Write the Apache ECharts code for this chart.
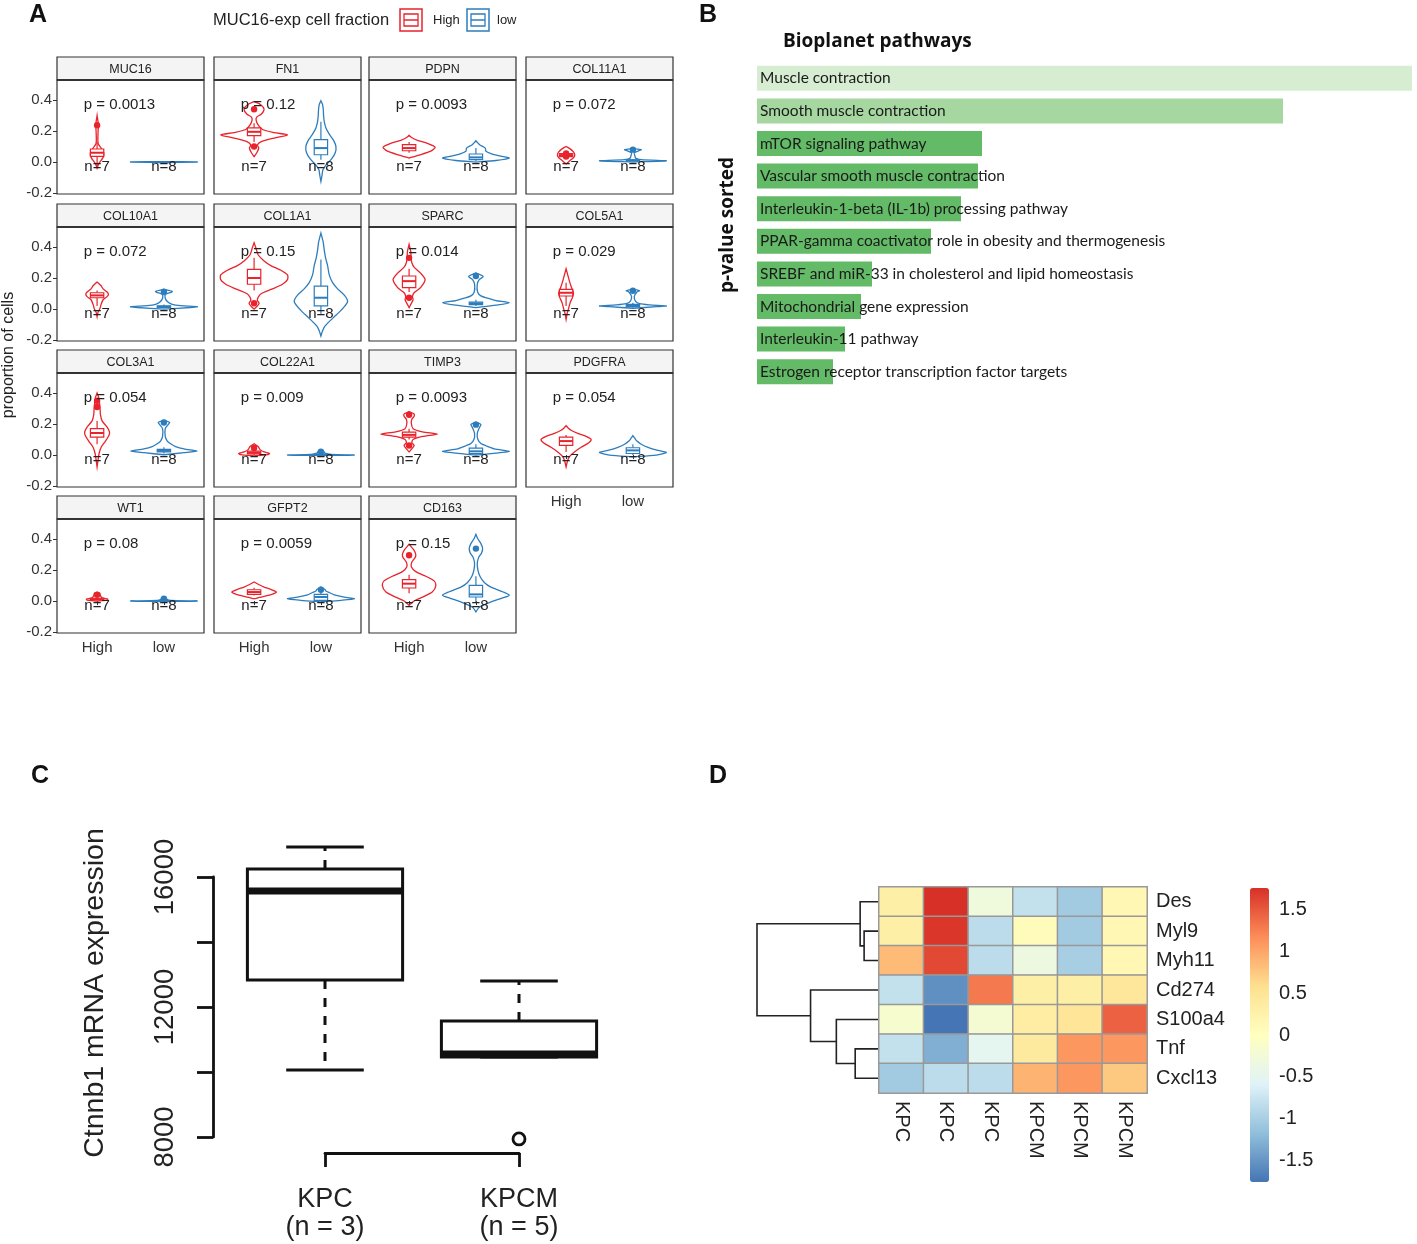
<!DOCTYPE html>
<html><head><meta charset="utf-8">
<script src="https://cdn.jsdelivr.net/npm/echarts@6/dist/echarts.min.js"></script>
<style>html,body{margin:0;padding:0;background:#fff}#c{width:1417px;height:1244px}</style>
</head><body><div id="c"></div>
<script>
// ================= Panel A data =================
const facetNames = ['MUC16','FN1','PDPN','COL11A1','COL10A1','COL1A1','SPARC','COL5A1','COL3A1','COL22A1','TIMP3','PDGFRA','WT1','GFPT2','CD163'];
const pValues = ['0.0013','0.12','0.0093','0.072','0.072','0.15','0.014','0.029','0.054','0.009','0.0093','0.054','0.08','0.0059','0.15'];
const groupNames = ['High','low'];
const groupN = [7, 8];
const yTicksA = [-0.2, 0, 0.2, 0.4];
// violin outlines: [value, relative half-width]
const violinHigh = [
 [[-0.04,0],[-0.01,0.05],[0.03,0.18],[0.06,0.2],[0.09,0.12],[0.12,0.03],[0.2,0.03],[0.24,0.04],[0.3,0]],
 [[0.035,0],[0.06,0.08],[0.09,0.14],[0.11,0.1],[0.13,0.2],[0.155,0.6],[0.175,1.0],[0.19,0.6],[0.21,0.25],[0.24,0.12],[0.27,0.06],[0.29,0.08],[0.31,0.22],[0.34,0.3],[0.37,0.2],[0.39,0]],
 [[0.026,0],[0.045,0.3],[0.07,0.65],[0.095,0.78],[0.12,0.55],[0.14,0.25],[0.155,0.1],[0.172,0]],
 [[-0.013,0],[0.01,0.12],[0.03,0.23],[0.047,0.26],[0.065,0.22],[0.085,0.12],[0.1,0]],
 [[-0.05,0],[-0.02,0.03],[0.0,0.08],[0.03,0.12],[0.06,0.18],[0.08,0.3],[0.095,0.34],[0.11,0.3],[0.13,0.18],[0.15,0.12],[0.174,0]],
 [[0.0,0],[0.02,0.1],[0.037,0.15],[0.055,0.1],[0.075,0.12],[0.1,0.22],[0.13,0.55],[0.16,0.85],[0.19,1.0],[0.22,1.0],[0.25,0.8],[0.28,0.5],[0.31,0.3],[0.35,0.12],[0.39,0.06],[0.428,0]],
 [[0.009,0],[0.03,0.05],[0.06,0.12],[0.08,0.1],[0.105,0.15],[0.14,0.35],[0.19,0.48],[0.23,0.35],[0.27,0.15],[0.3,0.08],[0.33,0.06],[0.37,0.05],[0.417,0]],
 [[-0.067,0],[-0.03,0.03],[0.0,0.07],[0.04,0.12],[0.08,0.2],[0.105,0.22],[0.14,0.16],[0.18,0.1],[0.22,0.05],[0.26,0]],
 [[-0.077,0],[-0.03,0.03],[0.01,0.06],[0.05,0.12],[0.09,0.25],[0.13,0.36],[0.15,0.37],[0.18,0.3],[0.22,0.15],[0.26,0.1],[0.3,0.09],[0.34,0.07],[0.37,0.05],[0.4,0]],
 [[-0.005,0],[0.003,0.4],[0.01,0.46],[0.02,0.3],[0.035,0.18],[0.055,0.12],[0.073,0]],
 [[0.02,0],[0.04,0.08],[0.062,0.15],[0.08,0.08],[0.1,0.12],[0.12,0.4],[0.135,0.85],[0.15,0.4],[0.17,0.12],[0.2,0.07],[0.23,0.08],[0.25,0.15],[0.265,0.15],[0.28,0]],
 [[-0.077,0],[-0.04,0.04],[-0.01,0.1],[0.02,0.25],[0.05,0.45],[0.08,0.68],[0.1,0.75],[0.12,0.6],[0.14,0.35],[0.16,0.15],[0.175,0.06],[0.19,0]],
 [[0.0,0],[0.006,0.3],[0.012,0.32],[0.02,0.15],[0.035,0.1],[0.05,0.08],[0.058,0]],
 [[0.015,0],[0.03,0.3],[0.045,0.55],[0.058,0.67],[0.075,0.5],[0.09,0.3],[0.105,0.15],[0.123,0]],
 [[-0.028,0],[0.0,0.15],[0.03,0.45],[0.06,0.7],[0.1,0.8],[0.13,0.75],[0.16,0.5],[0.19,0.2],[0.22,0.07],[0.25,0.08],[0.28,0.18],[0.3,0.2],[0.33,0.14],[0.366,0]]
];
const violinLow = [
 [[-0.003,0],[-0.001,1.0],[0.001,1.0],[0.003,0]],
 [[-0.125,0],[-0.09,0.03],[-0.05,0.06],[-0.02,0.15],[0.02,0.32],[0.06,0.43],[0.1,0.45],[0.14,0.38],[0.18,0.25],[0.22,0.15],[0.26,0.1],[0.3,0.08],[0.34,0.07],[0.37,0.05],[0.396,0]],
 [[0.0,0],[0.01,0.6],[0.025,1.0],[0.04,0.7],[0.055,0.45],[0.07,0.3],[0.09,0.28],[0.11,0.12],[0.125,0.05],[0.138,0]],
 [[0.0,0],[0.008,1.0],[0.015,0.25],[0.025,0.08],[0.04,0.06],[0.06,0.04],[0.075,0.2],[0.08,0.25],[0.086,0]],
 [[0.0,0],[0.01,0.8],[0.015,1.0],[0.022,0.5],[0.03,0.25],[0.045,0.12],[0.07,0.04],[0.095,0.05],[0.108,0.22],[0.114,0.25],[0.127,0]],
 [[-0.174,0],[-0.14,0.05],[-0.11,0.12],[-0.06,0.35],[-0.02,0.55],[0.02,0.72],[0.05,0.8],[0.09,0.7],[0.13,0.5],[0.17,0.35],[0.22,0.25],[0.28,0.2],[0.33,0.14],[0.38,0.1],[0.43,0.07],[0.49,0]],
 [[0.009,0],[0.025,0.6],[0.04,1.0],[0.055,0.6],[0.07,0.35],[0.085,0.15],[0.11,0.05],[0.16,0.04],[0.19,0.1],[0.21,0.22],[0.234,0]],
 [[0.005,0],[0.015,0.7],[0.02,1.0],[0.027,0.5],[0.035,0.2],[0.05,0.08],[0.08,0.04],[0.11,0.12],[0.118,0.2],[0.127,0]],
 [[0.002,0],[0.015,0.6],[0.026,1.0],[0.04,0.6],[0.055,0.35],[0.073,0.2],[0.09,0.1],[0.12,0.04],[0.17,0.04],[0.195,0.12],[0.21,0.17],[0.224,0]],
 [[-0.003,0],[0.0,1.0],[0.004,0.3],[0.012,0.12],[0.025,0.08],[0.033,0]],
 [[0.0,0],[0.012,0.6],[0.024,1.0],[0.04,0.55],[0.06,0.3],[0.075,0.15],[0.1,0.06],[0.14,0.04],[0.175,0.1],[0.196,0.15],[0.213,0]],
 [[-0.012,0],[0.0,0.7],[0.017,1.0],[0.03,0.75],[0.05,0.45],[0.07,0.25],[0.09,0.12],[0.11,0.05],[0.125,0]],
 [[-0.003,0],[0.0,1.0],[0.004,0.2],[0.01,0.1],[0.02,0.06],[0.025,0]],
 [[-0.005,0],[0.005,0.6],[0.015,1.0],[0.025,0.7],[0.04,0.4],[0.055,0.25],[0.065,0.15],[0.075,0.12],[0.09,0]],
 [[-0.07,0],[-0.04,0.1],[-0.01,0.4],[0.02,0.8],[0.037,1.0],[0.06,0.8],[0.09,0.45],[0.12,0.25],[0.16,0.12],[0.2,0.06],[0.24,0.04],[0.28,0.08],[0.31,0.17],[0.34,0.2],[0.37,0.15],[0.4,0.06],[0.43,0]]
];
// box stats: [lowerWhisker, q1, median, q3, upperWhisker]
const boxHigh = [
 [-0.03,0.037,0.06,0.084,0.13],[0.13,0.17,0.195,0.22,0.25],[0.06,0.073,0.09,0.112,0.13],[0.02,0.035,0.045,0.055,0.07],
 [0.02,0.073,0.088,0.105,0.12],[0.12,0.16,0.2,0.256,0.33],[0.11,0.138,0.18,0.213,0.26],[0.02,0.084,0.105,0.127,0.17],
 [0.07,0.116,0.142,0.17,0.22],[0.0,0.008,0.015,0.025,0.04],[0.1,0.116,0.13,0.148,0.17],[0.02,0.062,0.09,0.116,0.13],
 [0.005,0.008,0.012,0.018,0.025],[0.035,0.043,0.058,0.073,0.085],[0.05,0.084,0.112,0.138,0.17]
];
const boxLow = [
 [0,0,0,0,0],[0.015,0.047,0.09,0.144,0.26],[0.005,0.015,0.03,0.052,0.09],[0.005,0.008,0.01,0.015,0.02],
 [0.005,0.01,0.015,0.02,0.03],[-0.03,0.02,0.073,0.148,0.32],[0.02,0.028,0.036,0.045,0.06],[0.01,0.015,0.02,0.03,0.04],
 [0.01,0.02,0.028,0.037,0.05],[0,0,0.002,0.006,0.01],[0.0,0.009,0.024,0.045,0.07],[0.0,0.01,0.03,0.047,0.07],
 [0,0,0,0.003,0.006],[0,0.004,0.026,0.043,0.06],[-0.01,0.026,0.043,0.101,0.16]
];
const outliersHigh = [[0.237],[0.1,0.34],[],[0.035,0.055],[],[0.037],[0.073,0.33],[],[0.31,0.35],[0.045],[0.062,0.26],[],[0.04],[],[0.295]];
const outliersLow = [[],[],[],[0.08],[0.112],[],[0.213],[0.118],[0.21],[0.022],[0.196],[],[0.015],[0.073],[0.338]];

// ================= Panel B data =================
const pathways = ['Muscle contraction','Smooth muscle contraction','mTOR signaling pathway','Vascular smooth muscle contraction',
 'Interleukin-1-beta (IL-1b) processing pathway','PPAR-gamma coactivator role in obesity and thermogenesis',
 'SREBF and miR-33 in cholesterol and lipid homeostasis','Mitochondrial gene expression','Interleukin-11 pathway',
 'Estrogen receptor transcription factor targets'];
const pathwayScores = [6.55, 5.26, 2.25, 2.21, 2.04, 1.74, 1.15, 1.04, 0.88, 0.76];

// ================= Panel C data =================
const groupsC = ['KPC\n(n = 3)', 'KPCM\n(n = 5)'];
const boxC = [[10060, 12830, 15570, 16246, 16923], [10460, 10460, 10555, 11570, 12800]];
const outliersC = [[], [7940]];
const yTicksC = [8000, 10000, 12000, 14000, 16000];
const yLabelsC = ['8000', '', '12000', '', '16000'];

// ================= Panel D data =================
const genesD = ['Des','Myl9','Myh11','Cd274','S100a4','Tnf','Cxcl13'];
const samplesD = ['KPC','KPC','KPC','KPCM','KPCM','KPCM'];
const zDes    = [0.3, 1.76, -0.3, -0.8, -1.05, 0.15];
const zMyl9   = [0.3, 1.72, -0.85, 0.05, -1.05, 0.15];
const zMyh11  = [0.85, 1.6, -0.85, -0.35, -1.0, 0.15];
const zCd274  = [-0.8, -1.55, 1.3, 0.3, 0.3, 0.45];
const zS100a4 = [-0.15, -1.76, -0.2, 0.35, 0.5, 1.45];
const zTnf    = [-0.8, -1.3, -0.5, 0.4, 1.1, 1.1];
const zCxcl13 = [-1.05, -0.85, -0.85, 0.9, 1.1, 0.75];
const colorbarTicks = [-1.5, -1, -0.5, 0, 0.5, 1, 1.5];
// row dendrogram (hclust style: negative = leaf index+1, positive = earlier merge), heights
const dendroMerge = [[-2,-3],[-1,1],[-6,-7],[-5,3],[-4,4],[2,5]];
const dendroHeight = [0.7, 0.9, 1.15, 2.1, 3.4, 6.1];

// ================= build =================
const FONT = '"Liberation Sans", Arial, sans-serif';
const RED = '#E8232B', BLUE = '#2D7DBD';
const grids = [], xAxes = [], yAxes = [], series = [], graphics = [];

// ---- Panel A layout ----
const colLeftA = [57, 214, 369, 526], facetW = 147, stripTopA = [57, 204, 350, 496], stripH = 23, plotH = 114;
const yRangeA = [-0.206, 0.529];
const pLabelPos = [0.8, 0.37], nLabelY = -0.03;

function renderViolin(fi, g, api) {
  const prof = (g === 0 ? violinHigh : violinLow)[fi];
  const box = (g === 0 ? boxHigh : boxLow)[fi];
  const outs = (g === 0 ? outliersHigh : outliersLow)[fi];
  const col = g === 0 ? RED : BLUE;
  const xc = g + 1;
  const unit = api.size([1, 0])[0];
  const hw = 0.5 * unit;
  const children = [];
  const pts = [];
  prof.forEach(([v, w]) => { const p = api.coord([xc, v]); pts.push([p[0] + w * hw, p[1]]); });
  for (let k = prof.length - 1; k >= 0; k--) { const p = api.coord([xc, prof[k][0]]); pts.push([p[0] - prof[k][1] * hw, p[1]]); }
  children.push({type: 'polygon', shape: {points: pts, smooth: 0.25}, style: {fill: 'none', stroke: col, lineWidth: 1.3}});
  const bw = 0.1 * unit;
  const [lo, q1, med, q3, hi] = box.map(v => api.coord([xc, v])[1]);
  const xp = api.coord([xc, 0])[0];
  children.push({type: 'line', shape: {x1: xp, y1: lo, x2: xp, y2: q1}, style: {stroke: col, lineWidth: 1.2}});
  children.push({type: 'line', shape: {x1: xp, y1: q3, x2: xp, y2: hi}, style: {stroke: col, lineWidth: 1.2}});
  children.push({type: 'rect', shape: {x: xp - bw, y: q3, width: 2 * bw, height: Math.max(q1 - q3, 0.5)}, style: {fill: '#fff', stroke: col, lineWidth: 1.2}});
  children.push({type: 'line', shape: {x1: xp - bw, y1: med, x2: xp + bw, y2: med}, style: {stroke: col, lineWidth: 2}});
  outs.forEach(v => { const p = api.coord([xc, v]); children.push({type: 'circle', shape: {cx: p[0], cy: p[1], r: 3.2}, style: {fill: col}}); });
  const np = api.coord([xc, nLabelY]);
  children.push({type: 'text', style: {text: 'n=' + groupN[g], x: np[0], y: np[1], align: 'center', verticalAlign: 'middle', fontSize: 15, fill: '#222', fontFamily: FONT}});
  if (g === 0) {
    const pp = api.coord(pLabelPos);
    children.push({type: 'text', style: {text: 'p = ' + pValues[fi], x: pp[0], y: pp[1], align: 'left', verticalAlign: 'middle', fontSize: 15, fill: '#222', fontFamily: FONT}});
  }
  return {type: 'group', children};
}

facetNames.forEach((name, i) => {
  const r = Math.floor(i / 4), c = i % 4;
  const left = colLeftA[c], top = stripTopA[r] + stripH;
  const isBottom = i >= facetNames.length - 4;
  const gi = grids.length;
  grids.push({left, top, width: facetW, height: plotH, show: true, borderColor: '#333', borderWidth: 1.2, backgroundColor: '#fff'});
  xAxes.push({gridIndex: gi, type: 'value', min: 0.4, max: 2.6, splitLine: {show: false}, axisLine: {show: false},
    axisTick: {show: isBottom, customValues: [1, 2], length: 4, lineStyle: {color: '#333'}},
    axisLabel: {show: isBottom, customValues: [1, 2], formatter: v => groupNames[Math.round(v) - 1], fontSize: 15, color: '#333', margin: 7, fontFamily: FONT}});
  yAxes.push({gridIndex: gi, type: 'value', min: yRangeA[0], max: yRangeA[1], splitLine: {show: false}, axisLine: {show: false},
    axisTick: {show: c === 0, customValues: yTicksA, length: 4, lineStyle: {color: '#333'}},
    axisLabel: {show: c === 0, customValues: yTicksA, formatter: v => v.toFixed(1), fontSize: 15, color: '#333', margin: 5, fontFamily: FONT}});
  series.push({type: 'custom', xAxisIndex: gi, yAxisIndex: gi, silent: true, clip: false,
    data: [[1, boxHigh[i][2], 0], [2, boxLow[i][2], 1]],
    renderItem: (params, api) => renderViolin(i, api.value(2), api)});
  graphics.push({type: 'rect', shape: {x: left, y: stripTopA[r], width: facetW, height: stripH}, style: {fill: '#f4f4f4', stroke: '#333', lineWidth: 1.2}});
  graphics.push({type: 'rect', shape: {x: left, y: top - 1, width: facetW, height: 2}, style: {fill: '#333'}});
  graphics.push({type: 'text', x: left + facetW / 2, y: stripTopA[r] + stripH / 2 + 1, style: {text: name, align: 'center', verticalAlign: 'middle', fontSize: 12.5, fill: '#222', fontFamily: FONT}});
});

// ---- Panel A legend + labels ----
graphics.push({type: 'text', x: 213, y: 20, style: {text: 'MUC16-exp cell fraction', align: 'left', verticalAlign: 'middle', fontSize: 16.5, fill: '#222', fontFamily: FONT}});
[[400, RED, 'High', 433], [467, BLUE, 'low', 497]].forEach(([x, col, txt, tx]) => {
  graphics.push({type: 'rect', shape: {x: x, y: 9, width: 22, height: 22}, style: {fill: '#fff', stroke: col, lineWidth: 1.5}});
  graphics.push({type: 'rect', shape: {x: x + 4, y: 14, width: 14, height: 12}, style: {fill: 'none', stroke: col, lineWidth: 1.3}});
  graphics.push({type: 'line', shape: {x1: x + 4, y1: 20, x2: x + 18, y2: 20}, style: {stroke: col, lineWidth: 1.5}});
  graphics.push({type: 'text', x: tx, y: 20, style: {text: txt, align: 'left', verticalAlign: 'middle', fontSize: 13, fill: '#222', fontFamily: FONT}});
});
graphics.push({type: 'text', x: 9, y: 355, rotation: Math.PI / 2, style: {text: 'proportion of cells', align: 'center', verticalAlign: 'middle', fontSize: 16, fill: '#222', fontFamily: FONT}});

// ---- Panel letters ----
[['A', 38, 15], ['B', 708, 15], ['C', 40, 776], ['D', 718, 776]].forEach(([t, x, y]) => {
  graphics.push({type: 'text', x, y, style: {text: t, align: 'center', verticalAlign: 'middle', fontSize: 25, fontWeight: 'bold', fill: '#111', fontFamily: FONT}});
});

// ---- Panel B ----
const shadeB = ['#d6edd2', '#a6d7a0', '#63ba67'];
{
  const gi = grids.length;
  grids.push({left: 757, top: 62, width: 655, height: 326});
  xAxes.push({gridIndex: gi, type: 'value', min: 0, max: Math.max(...pathwayScores), show: false});
  yAxes.push({gridIndex: gi, type: 'category', data: pathways, inverse: true, show: false});
  series.push({type: 'bar', xAxisIndex: gi, yAxisIndex: gi, barWidth: 25, silent: true,
    data: pathwayScores.map((v, k) => ({value: v, itemStyle: {color: shadeB[Math.min(k, 2)]}})),
    label: {show: true, position: 'insideLeft', distance: 3, formatter: '{b}', color: '#1a1a1a', fontSize: 15.5, fontFamily: 'Lato'}});
  graphics.push({type: 'text', x: 783, y: 42, style: {text: 'Bioplanet pathways', align: 'left', verticalAlign: 'middle', fontSize: 19, fontWeight: 'bold', fill: '#111', fontFamily: '"Open Sans", sans-serif'}});
  graphics.push({type: 'text', x: 728, y: 225, rotation: Math.PI / 2, style: {text: 'p-value sorted', align: 'center', verticalAlign: 'middle', fontSize: 19, fontWeight: 'bold', fill: '#111', fontFamily: '"Open Sans", sans-serif'}});
}

// ---- Panel C ----
{
  const gi = grids.length;
  grids.push({left: 325, top: 877, width: 194, height: 260});
  xAxes.push({gridIndex: gi, type: 'value', min: 1, max: 2, interval: 1, offset: 16, splitLine: {show: false},
    axisLine: {show: true, lineStyle: {color: '#111', width: 2.8}},
    axisTick: {show: true, length: 14, lineStyle: {color: '#111', width: 2.8}},
    axisLabel: {formatter: v => groupsC[Math.round(v) - 1], fontSize: 27, lineHeight: 28, margin: 33, color: '#222', fontFamily: FONT}});
  yAxes.push({gridIndex: gi, type: 'value', min: 8000, max: 16000, interval: 2000, offset: 112, splitLine: {show: false},
    axisLine: {show: true, lineStyle: {color: '#111', width: 2.8}},
    axisTick: {show: true, length: 16, lineStyle: {color: '#111', width: 2.8}},
    axisLabel: {rotate: 90, formatter: v => yLabelsC[yTicksC.indexOf(v)] || '', fontSize: 27.5, margin: 34, color: '#222', fontFamily: FONT}});
  series.push({type: 'custom', xAxisIndex: gi, yAxisIndex: gi, silent: true, clip: false,
    data: [[1, boxC[0][2], 0], [2, boxC[1][2], 1]],
    renderItem: (params, api) => {
      const g = api.value(2), xc = g + 1;
      const unit = api.size([1, 0])[0];
      const bw = 0.4 * unit, sw = 0.2 * unit;
      const xp = api.coord([xc, 10000])[0];
      const [lo, q1, med, q3, hi] = boxC[g].map(v => api.coord([xc, v])[1]);
      const ls = {stroke: '#111', lineWidth: 3};
      const ch = [];
      ch.push({type: 'line', shape: {x1: xp, y1: q3, x2: xp, y2: hi}, style: Object.assign({lineDash: [9, 9]}, ls)});
      ch.push({type: 'line', shape: {x1: xp, y1: q1, x2: xp, y2: lo}, style: Object.assign({lineDash: [9, 9]}, ls)});
      ch.push({type: 'line', shape: {x1: xp - sw, y1: hi, x2: xp + sw, y2: hi}, style: ls});
      ch.push({type: 'line', shape: {x1: xp - sw, y1: lo, x2: xp + sw, y2: lo}, style: ls});
      ch.push({type: 'rect', shape: {x: xp - bw, y: q3, width: 2 * bw, height: q1 - q3}, style: {fill: 'none', stroke: '#111', lineWidth: 3}});
      ch.push({type: 'line', shape: {x1: xp - bw, y1: med, x2: xp + bw, y2: med}, style: {stroke: '#111', lineWidth: 7}});
      outliersC[g].forEach(v => { const p = api.coord([xc, v]); ch.push({type: 'circle', shape: {cx: p[0], cy: p[1], r: 6}, style: {fill: 'none', stroke: '#111', lineWidth: 2.8}}); });
      return {type: 'group', children: ch};
    }});
  graphics.push({type: 'text', x: 95, y: 993, rotation: Math.PI / 2, style: {text: 'Ctnnb1 mRNA expression', align: 'center', verticalAlign: 'middle', fontSize: 28.5, fill: '#222', fontFamily: FONT}});
}

// ---- Panel D ----
const zRows = [zDes, zMyl9, zMyh11, zCd274, zS100a4, zTnf, zCxcl13];
const zAll = [].concat(...zRows);
const zMin = Math.min(...zAll), zMax = Math.max(...zAll);
const heatData = [];
zRows.forEach((row, r) => row.forEach((v, c) => heatData.push([c, r, v])));
let heatSeriesIndex;
{
  const gi = grids.length;
  grids.push({left: 879, top: 887, width: 268, height: 206});
  xAxes.push({gridIndex: gi, type: 'category', data: samplesD.map((s, k) => String(k)), axisLine: {show: false}, axisTick: {show: false},
    axisLabel: {rotate: -90, formatter: (v, k) => samplesD[k], fontSize: 20, color: '#222', margin: 8, fontFamily: FONT}});
  yAxes.push({gridIndex: gi, type: 'category', data: genesD, inverse: true, position: 'right', axisLine: {show: false}, axisTick: {show: false},
    axisLabel: {fontSize: 20, color: '#222', margin: 9, fontFamily: FONT}});
  heatSeriesIndex = series.length;
  series.push({type: 'heatmap', xAxisIndex: gi, yAxisIndex: gi, data: heatData, silent: true,
    itemStyle: {borderColor: '#999', borderWidth: 1.5}});
}
{
  const gi = grids.length;
  const rootH = Math.max(...dendroHeight);
  grids.push({left: 757, top: 887, width: 121, height: 206});
  xAxes.push({gridIndex: gi, type: 'value', min: 0, max: rootH, inverse: true, show: false});
  yAxes.push({gridIndex: gi, type: 'value', min: -0.5, max: genesD.length - 0.5, inverse: true, show: false});
  series.push({type: 'custom', xAxisIndex: gi, yAxisIndex: gi, silent: true, clip: false, data: [[0, 0]],
    renderItem: (params, api) => {
      const nodes = [];
      const get = id => id < 0 ? {h: 0, y: -id - 1} : nodes[id - 1];
      const ch = [];
      dendroMerge.forEach(([a, b], k) => {
        const A = get(a), B = get(b), h = dendroHeight[k];
        const pA = api.coord([A.h, A.y]), pB = api.coord([B.h, B.y]);
        const x = api.coord([h, 0])[0];
        ch.push({type: 'polyline', shape: {points: [pA, [x, pA[1]], [x, pB[1]], pB]}, style: {fill: 'none', stroke: '#222', lineWidth: 1.6}});
        nodes.push({h, y: (A.y + B.y) / 2});
      });
      return {type: 'group', children: ch};
    }});
}
{
  const gi = grids.length;
  grids.push({left: 1250, top: 888, width: 19, height: 294});
  xAxes.push({gridIndex: gi, type: 'value', show: false});
  yAxes.push({gridIndex: gi, type: 'value', min: zMin, max: zMax, position: 'right', splitLine: {show: false}, axisLine: {show: false}, axisTick: {show: false},
    axisLabel: {customValues: colorbarTicks, formatter: v => String(v), fontSize: 20, color: '#222', margin: 10, fontFamily: FONT}});
}

const option = {
  backgroundColor: '#fff',
  animation: false,
  grid: grids, xAxis: xAxes, yAxis: yAxes, series,
  visualMap: {type: 'continuous', min: zMin, max: zMax, seriesIndex: heatSeriesIndex, calculable: false, orient: 'vertical',
    left: 1250, top: 888, itemWidth: 19, itemHeight: 294, padding: 0, text: null, show: true,
    inRange: {color: ['#4575B4', '#91BFDB', '#E0F3F8', '#FFFFBF', '#FEE090', '#FC8D59', '#D73027']}},
  graphic: graphics
};
const chart = echarts.init(document.getElementById('c'), null, {renderer: 'canvas', width: 1417, height: 1244});
chart.setOption(option);
</script></body></html>
